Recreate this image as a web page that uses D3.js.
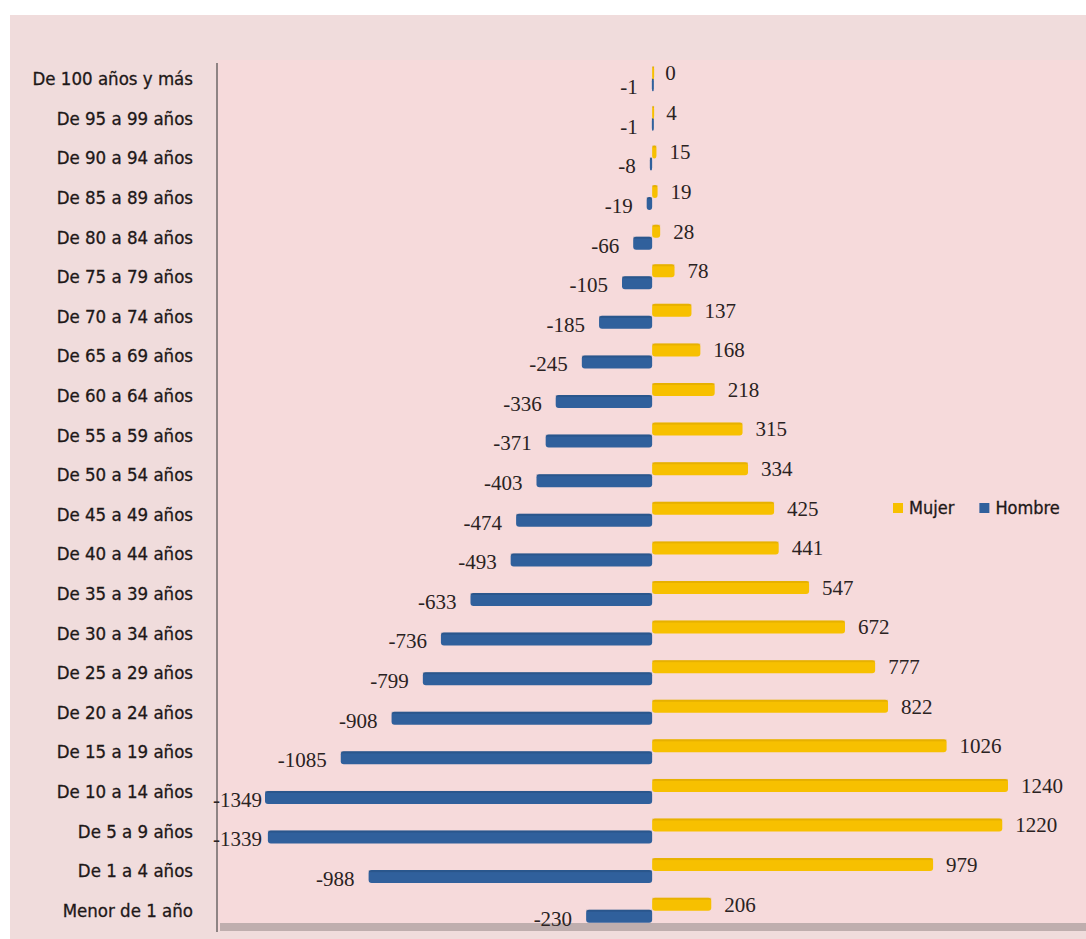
<!DOCTYPE html>
<html><head><meta charset="utf-8">
<script src="https://cdn.jsdelivr.net/npm/d3@7"></script>
<style>body{margin:0;background:#fff}svg{display:block}</style>
</head><body>
<script>
const categories = ["De 100 años y más","De 95 a 99 años","De 90 a 94 años","De 85 a 89 años","De 80 a 84 años","De 75 a 79 años","De 70 a 74 años","De 65 a 69 años","De 60 a 64 años","De 55 a 59 años","De 50 a 54 años","De 45 a 49 años","De 40 a 44 años","De 35 a 39 años","De 30 a 34 años","De 25 a 29 años","De 20 a 24 años","De 15 a 19 años","De 10 a 14 años","De 5 a 9 años","De 1 a 4 años","Menor de 1 año"];
const mujer = [0,4,15,19,28,78,137,168,218,315,334,425,441,547,672,777,822,1026,1240,1220,979,206];
const hombre = [-1,-1,-8,-19,-66,-105,-185,-245,-336,-371,-403,-474,-493,-633,-736,-799,-908,-1085,-1349,-1339,-988,-230];
const seriesNames = ["Mujer","Hombre"];

const W = 1086, H = 939;
const svg = d3.select("body").append("svg").attr("width", W).attr("height", H);

const yellow = "#f7c000", yellowDark = "#c89600", blue = "#30609c", blueDark = "#1f4470";

svg.append("rect").attr("x",10).attr("y",15).attr("width",W-10).attr("height",H-15).attr("fill","#f0dcdc");
svg.append("rect").attr("x",218).attr("y",60).attr("width",W-218).attr("height",870).attr("fill","#f6dadb");

const x = d3.scaleLinear().domain([-1349, 1240]).range([265, 1008]);
const y = d3.scaleBand().domain(categories).range([59, 930]).paddingInner(0);

const labelFont = "'DejaVu Sans Condensed', 'Liberation Sans Narrow', sans-serif";
const valueFont = "'Liberation Serif', serif";

// floor
svg.append("rect").attr("x",220).attr("y",923).attr("width",W-220).attr("height",8).attr("fill","#bfaeae");
svg.append("line").attr("x1",217).attr("x2",217).attr("y1",63).attr("y2",932).attr("stroke","#8e8484").attr("stroke-width",2);

// category axis
const axis = d3.axisLeft(y).tickSize(0).tickPadding(0);
const gA = svg.append("g").attr("transform","translate(193,0)").call(axis);
gA.select(".domain").remove();
gA.selectAll("text").attr("font-family",labelFont).attr("font-size",18.5).attr("font-weight","normal").attr("fill","#1e1818").attr("stroke","#1e1818").attr("stroke-width",0.3).attr("dy","0.35em").attr("y",0);

const bh = 13;
const rows = categories.map((c,i)=>({c, m:mujer[i], h:hombre[i]}));
const g = svg.append("g");

function bar(sel, x0, x1, yc, fill, dark){
  const left = Math.min(x0,x1), w = Math.max(Math.abs(x1-x0), 2);
  sel.append("rect").attr("x",left).attr("y",yc-bh/2).attr("width",w).attr("height",bh).attr("rx",3).attr("fill",fill);
  sel.append("rect").attr("x",left).attr("y",yc-bh/2).attr("width",w).attr("height",2).attr("fill",dark).attr("opacity",0.35);
}

rows.forEach(r=>{
  const rc = y(r.c) + y.bandwidth()/2;
  bar(g, x(0), x(r.h), rc+6, blue, blueDark);
  bar(g, x(0), x(r.m), rc-6, yellow, yellowDark);
});

// value labels
rows.forEach(r=>{
  const rc = y(r.c) + y.bandwidth()/2;
  g.append("text").attr("x", x(r.m)+13).attr("y", rc-6).attr("dy","0.35em")
    .attr("font-family",valueFont).attr("font-size",21).attr("fill","#2a2222").text(r.m);
  const t = g.append("text").attr("y", rc+8).attr("dy","0.35em").attr("text-anchor","end")
    .attr("font-family",valueFont).attr("font-size",21).attr("fill","#2a2222").text(r.h);
  let xe = x(r.h)-14;
  const tw = t.node().getComputedTextLength();
  if (xe - tw < 213) xe = 213 + tw;
  t.attr("x", xe);
});

// legend
const leg = svg.append("g").attr("transform","translate(893,508)");
const colors = [yellow, blue];
let lx = 0;
seriesNames.forEach((s,i)=>{
  leg.append("rect").attr("x",lx).attr("y",-5).attr("width",10).attr("height",10).attr("fill",colors[i]);
  const t = leg.append("text").attr("x",lx+16).attr("y",0).attr("dy","0.35em").attr("font-family",labelFont)
    .attr("font-size",18).attr("fill","#1e1818").attr("stroke","#1e1818").attr("stroke-width",0.3).text(s);
  lx += 16 + t.node().getComputedTextLength() + 25;
});
</script>
</body></html>
